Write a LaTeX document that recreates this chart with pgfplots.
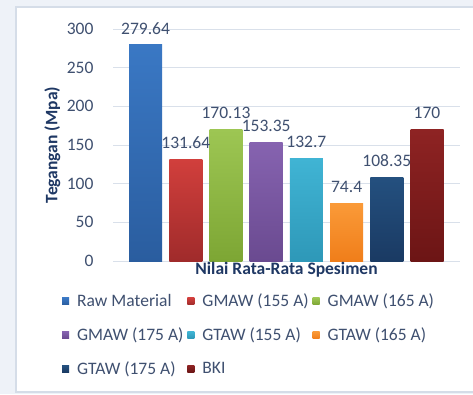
\documentclass[border=0pt]{standalone}
\usepackage{pgfplots}
\pgfplotsset{compat=1.18}
\usepackage{fontspec}
\setmainfont{Carlito}
\definecolor{txt}{HTML}{3F5070}
\definecolor{lab}{HTML}{1F3864}
\definecolor{gridc}{HTML}{D9E0EA}
\definecolor{framec}{HTML}{D5DDE8}
\definecolor{bgc}{HTML}{EEF2F8}
\definecolor{c1t}{HTML}{3A78C4}\definecolor{c1b}{HTML}{2A5D9F}
\definecolor{c2t}{HTML}{D13F3C}\definecolor{c2b}{HTML}{A02B2B}
\definecolor{c3t}{HTML}{9DC653}\definecolor{c3b}{HTML}{7DA634}
\definecolor{c4t}{HTML}{8663B0}\definecolor{c4b}{HTML}{6A4A90}
\definecolor{c5t}{HTML}{40B4D4}\definecolor{c5b}{HTML}{2E98B8}
\definecolor{c6t}{HTML}{FA9A38}\definecolor{c6b}{HTML}{F07E1A}
\definecolor{c7t}{HTML}{24507F}\definecolor{c7b}{HTML}{1A3A63}
\definecolor{c8t}{HTML}{8E2323}\definecolor{c8b}{HTML}{6C1515}
\newcommand{\fs}{\fontsize{17.5}{21}\selectfont}
\begin{document}
\begin{tikzpicture}
\fill[bgc] (0pt,0pt) rectangle (473pt,394pt);
\fill[white] (16pt,2pt) rectangle (473pt,387pt);
\draw[framec, line width=1.2pt] (473pt,387pt) -- (16pt,387pt) -- (16pt,2pt) -- (473pt,2pt);
\begin{axis}[
  at={(113pt,133pt)}, anchor=south west,
  scale only axis, width=347pt, height=232pt,
  xmin=-0.81, xmax=7.82, ymin=0, ymax=300,
  ybar, bar width=0.82, bar shift=0pt,
  axis line style={draw=none},
  xtick=\empty,
  ytick={0,50,...,300},
  ymajorgrids, grid style={gridc, line width=0.9pt},
  major tick style={draw=none},
  /pgf/number format/assume math mode=true,
  yticklabel style={font=\fs, text=txt, xshift=-16pt},
  ylabel={Tegangan (Mpa)},
  ylabel style={font=\fs\bfseries, text=lab, at={(axis description cs:-0.175,0.5)}, anchor=center, rotate=0},
  xlabel={Nilai Rata-Rata Spesimen},
  xlabel style={font=\fs\bfseries, text=lab, at={(axis description cs:0.5,0)}, anchor=center, yshift=-9pt},
  nodes near coords,
  every node near coord/.append style={font=\fs, text=txt, yshift=7pt},
  legend columns=3,
  legend cell align=left,
  legend style={at={(axis description cs:-0.147,-0.133)}, anchor=north west, draw=none, fill=none,
    font=\fs, text=txt, inner sep=0pt, row sep=15.5pt,
    /tikz/every odd column/.append style={column sep=6pt},
    /tikz/every even column/.append style={column sep=2pt}},
  legend image code/.code={\path[#1, draw=none] (0pt,-3.5pt) rectangle (7pt,3.5pt);},
]
\addplot[draw=none, top color=c1t, bottom color=c1b] coordinates {(0,279.64)};
\addplot[draw=none, top color=c2t, bottom color=c2b] coordinates {(1,131.64)};
\addplot[draw=none, top color=c3t, bottom color=c3b] coordinates {(2,170.13)};
\addplot[draw=none, top color=c4t, bottom color=c4b] coordinates {(3,153.35)};
\addplot[draw=none, top color=c5t, bottom color=c5b] coordinates {(4,132.7)};
\addplot[draw=none, top color=c6t, bottom color=c6b] coordinates {(5,74.4)};
\addplot[draw=none, top color=c7t, bottom color=c7b] coordinates {(6,108.35)};
\addplot[draw=none, top color=c8t, bottom color=c8b] coordinates {(7,170)};
\legend{Raw Material, GMAW (155 A), GMAW (165 A), GMAW (175 A), GTAW (155 A), GTAW (165 A), GTAW (175 A), BKI}
\end{axis}
\pgfresetboundingbox
\path[use as bounding box] (0pt,0pt) rectangle (473pt,394pt);
\end{tikzpicture}
\end{document}
